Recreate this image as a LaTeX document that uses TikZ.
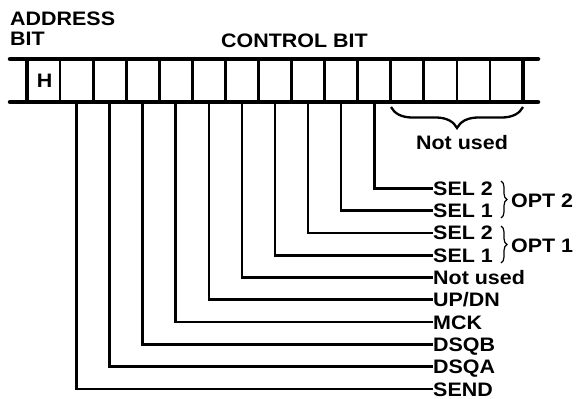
\documentclass[tikz,border=0pt]{standalone}
\usepackage{fontspec}
\setmainfont{Liberation Sans}[FakeStretch=1.1]
\usepackage{tikz}
\usetikzlibrary{positioning,decorations.pathreplacing}

\begin{document}
\begin{tikzpicture}[
        x=1pt, y=-1pt,
        font=\fontsize{19.5}{21}\selectfont\bfseries,
        rail/.style={line width=4.5pt, line cap=round},
        endbar/.style={line width=4.5pt},
        divider/.style={line width=2.8pt},
        wire/.style={line width=2.7pt},
        sig/.style={anchor=west, inner sep=0pt, text height=14pt, text depth=0pt},
        head/.style={anchor=south west, inner sep=0pt, align=left},
        brc/.style={decorate, decoration={brace, amplitude=#1}, line width=1.2pt},
        brc/.default=6pt
    ]
    \useasboundingbox (0,0) rectangle (584,399);

    % ---- Headings ----
    \node[head] (addr) at (10,46) {ADDRESS\\[-1pt]BIT};
    \node[head] (ctrl) at (221,48) {CONTROL BIT};

    % ---- Register ----
    \draw[rail] (10,59) -- (538,59);
    \draw[rail] (10,102) -- (538,102);
    \draw[endbar] (27,59) -- (27,102);
    \draw[endbar] (523,59) -- (523,102);
    \foreach \i in {1,...,14}
        \draw[divider] (27+33.07*\i,59) -- (27+33.07*\i,102);
    \node[inner sep=0pt] (hbit) at (44.5,81) {H};

    % ---- Cell taps ----
    \foreach \i in {1,...,10}
        \coordinate (b\i) at (27+33.07*\i+16.5,102);

    % ---- Signal names ----
    \node[sig] (send)  at (433,389) {SEND};
    \node[sig] (dsqa)  at (433,366.7) {DSQA};
    \node[sig] (dsqb)  at (433,344.4) {DSQB};
    \node[sig] (mck)   at (433,322.1) {MCK};
    \node[sig] (updn)  at (433,299.8) {UP/DN};
    \node[sig] (nused) at (433,277.5) {Not used};
    \node[sig] (sela)  at (433,255.2) {SEL 1};
    \node[sig] (selb)  at (433,232.9) {SEL 2};
    \node[sig] (selc)  at (433,210.6) {SEL 1};
    \node[sig] (seld)  at (433,188.3) {SEL 2};

    % ---- Wires ----
    \draw[wire] (b1) |- (send.west);
    \draw[wire] (b2) |- (dsqa.west);
    \draw[wire] (b3) |- (dsqb.west);
    \draw[wire] (b4) |- (mck.west);
    \draw[wire] (b5) |- (updn.west);
    \draw[wire] (b6) |- (nused.west);
    \draw[wire] (b7) |- (sela.west);
    \draw[wire] (b8) |- (selb.west);
    \draw[wire] (b9) |- (selc.west);
    \draw[wire] (b10) |- (seld.west);

    % ---- Unused bits ----
    \coordinate (ua) at (523,107);
    \coordinate (ub) at (391,107);
    \draw[brc=21pt, line width=2.3pt] (ua) -- (ub);
    \node[inner sep=0pt] (uname) at (462,143) {Not used};

    % ---- Options ----
    \coordinate (o2a) at (501,181);
    \coordinate (o2b) at (501,218);
    \draw[brc] (o2a) -- (o2b);
    \node[sig] (opt2) at (511,200) {OPT 2};
    \coordinate (o1a) at (501,226);
    \coordinate (o1b) at (501,263);
    \draw[brc] (o1a) -- (o1b);
    \node[sig] (opt1) at (511,245) {OPT 1};
\end{tikzpicture}
\end{document}
